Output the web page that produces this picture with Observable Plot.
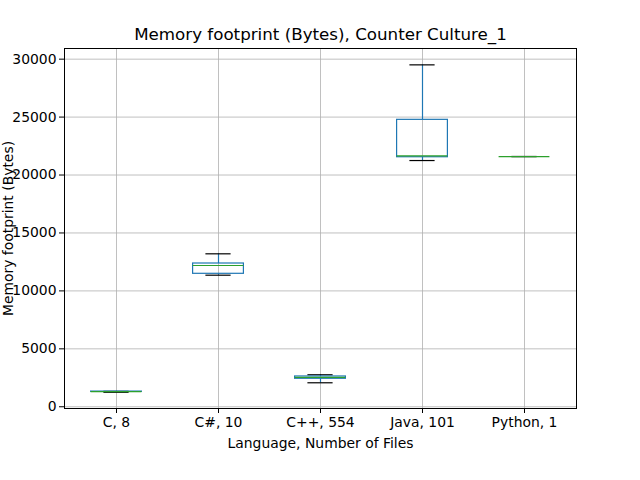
<!DOCTYPE html>
<html>
<head>
<meta charset="utf-8">
<script src="https://cdn.jsdelivr.net/npm/d3@7"></script>
<script src="https://cdn.jsdelivr.net/npm/@observablehq/plot@0.6"></script>
<style>
  body { margin: 0; padding: 0; background: #fff; }
  #chart svg { display: block; }
</style>
</head>
<body>
<div id="chart"></div>
<script>
const languages = ["C, 8", "C#, 10", "C++, 554", "Java, 101", "Python, 1"];
const whiskerLow  = [1250, 11355, 2070, 21250, 21596];
const q1          = [1290, 11475, 2416, 21536, 21596];
const median      = [1300, 12192, 2528, 21657, 21596];
const q3          = [1310, 12364, 2614, 24763, 21596];
const whiskerHigh = [1330, 13200, 2761, 29508, 21596];
const yTicks = [0, 5000, 10000, 15000, 20000, 25000, 30000];
const title = "Memory footprint (Bytes), Counter Culture_1";
const xLabel = "Language, Number of Files";
const yLabel = "Memory footprint (Bytes)";

const rows = languages.map((lang, i) => ({
  lang, lo: whiskerLow[i], q1: q1[i], med: median[i], q3: q3[i], hi: whiskerHigh[i]
}));

const blue = "#1f77b4", green = "#2ca02c";
const W = 640, H = 480, mL = 64, mR = 64, mT = 48, mB = 72;
const bw = (W - mL - mR) / languages.length;

const chart = Plot.plot({
  width: W, height: H,
  marginLeft: mL, marginRight: mR, marginTop: mT, marginBottom: mB,
  style: { fontFamily: "DejaVu Sans", fontSize: "13.9px", color: "black", background: "white" },
  x: { type: "band", domain: languages, padding: 0, label: null },
  y: { domain: [-150, 30920], label: null },
  marks: [
    Plot.gridY(yTicks, { stroke: "#b0b0b0", strokeOpacity: 1, strokeWidth: 0.8 }),
    Plot.gridX(languages, { stroke: "#b0b0b0", strokeOpacity: 1, strokeWidth: 0.8 }),
    Plot.axisY(yTicks, { tickSize: 5, tickPadding: 3, tickFormat: d => String(d), fontSize: 13.9, label: null }),
    Plot.axisX({ tickSize: 5, tickPadding: 4, fontSize: 13.9, label: null }),
    Plot.ruleX(rows, { x: "lang", y1: "lo", y2: "q1", stroke: blue, strokeWidth: 1.2 }),
    Plot.ruleX(rows, { x: "lang", y1: "q3", y2: "hi", stroke: blue, strokeWidth: 1.2 }),
    Plot.tickY(rows, { x: "lang", y: "lo", stroke: "black", strokeWidth: 1.2, insetLeft: bw * 0.375, insetRight: bw * 0.375 }),
    Plot.tickY(rows, { x: "lang", y: "hi", stroke: "black", strokeWidth: 1.2, insetLeft: bw * 0.375, insetRight: bw * 0.375 }),
    Plot.barY(rows, { x: "lang", y1: "q1", y2: "q3", fill: "none", stroke: blue, strokeWidth: 1.2, insetLeft: bw * 0.25, insetRight: bw * 0.25 }),
    Plot.tickY(rows, { x: "lang", y: "med", stroke: green, strokeWidth: 1.2, insetLeft: bw * 0.25, insetRight: bw * 0.25 }),
    Plot.frame({ stroke: "black", strokeWidth: 1 }),
    Plot.text([title], { frameAnchor: "top", fontSize: 16.7, textAnchor: "middle", lineAnchor: "middle", dy: -14 }),
    Plot.text([xLabel], { frameAnchor: "bottom", dy: 35, fontSize: 13.9, textAnchor: "middle", lineAnchor: "middle" }),
    Plot.text([yLabel], { frameAnchor: "left", dx: -56, rotate: -90, fontSize: 13.9, textAnchor: "middle", lineAnchor: "middle" })
  ]
});
document.getElementById("chart").appendChild(chart);
</script>
</body>
</html>
